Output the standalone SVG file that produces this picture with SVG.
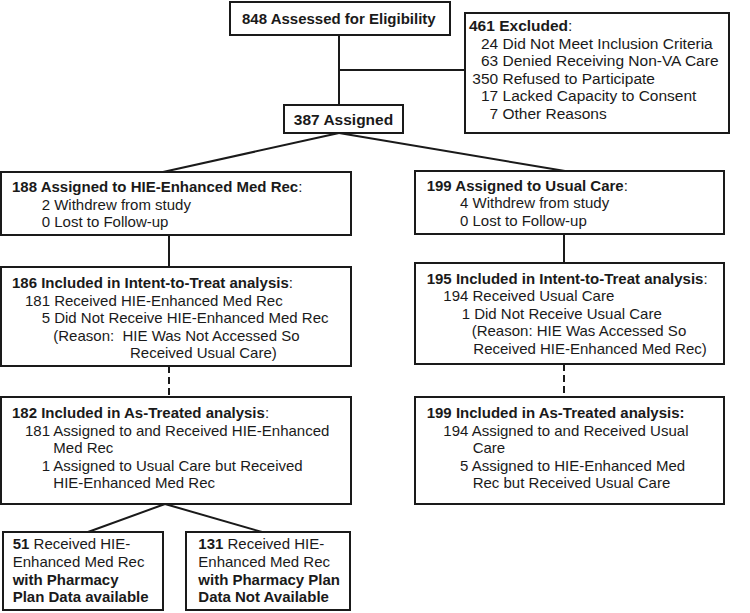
<svg xmlns="http://www.w3.org/2000/svg" width="750" height="613" viewBox="0 0 750 613">
<style>
.box{fill:#fff;stroke:#1a1a1a;stroke-width:2}
.ln{fill:none;stroke:#1a1a1a;stroke-width:2}
.dash{stroke-dasharray:7,4}
text{font-family:"Liberation Sans",Arial,sans-serif;font-size:15px;fill:#1a1a1a}
.b{font-weight:bold}
.big{font-size:15.5px}
</style>
<rect width="750" height="613" fill="#fff"/>
<g id="connectors">
<line class="ln" x1="339" y1="35" x2="339" y2="105"/>
<line class="ln" x1="339" y1="70" x2="465" y2="70"/>
<line class="ln" x1="339" y1="133" x2="163" y2="172"/>
<line class="ln" x1="339" y1="133" x2="565" y2="171"/>
<line class="ln" x1="169" y1="235" x2="169" y2="267"/>
<line class="ln" x1="564" y1="234" x2="564" y2="263"/>
<line class="ln dash" x1="169" y1="366" x2="169" y2="397"/>
<line class="ln dash" x1="564" y1="364" x2="564" y2="397"/>
<line class="ln" x1="165" y1="504" x2="88" y2="532"/>
<line class="ln" x1="165" y1="504" x2="262" y2="532"/>
</g>
<g id="assessed">
<rect class="box" x="230" y="2" width="220" height="33"/>
<text class="b" x="242" y="24">848 Assessed for Eligibility</text>
</g>
<g id="excluded">
<rect class="box" x="465" y="13" width="264" height="120"/>
<text class="big" x="469" y="31"><tspan class="b">461 Excluded</tspan>:</text>
<text class="big" x="481" y="48.5">24 Did Not Meet Inclusion Criteria</text>
<text class="big" x="481" y="66">63 Denied Receiving Non-VA Care</text>
<text class="big" x="472.3" y="83.5">350 Refused to Participate</text>
<text class="big" x="481" y="101">17 Lacked Capacity to Consent</text>
<text class="big" x="489.5" y="118.5">7 Other Reasons</text>
</g>
<g id="assigned">
<rect class="box" x="284" y="105" width="119" height="28"/>
<text class="b big" x="343.5" y="125" text-anchor="middle">387 Assigned</text>
</g>
<g id="hie-assigned">
<rect class="box" x="1" y="172" width="350" height="63"/>
<text x="12" y="192"><tspan class="b">188 Assigned to HIE-Enhanced Med Rec</tspan>:</text>
<text x="41.7" y="209.5">2 Withdrew from study</text>
<text x="41.7" y="227">0 Lost to Follow-up</text>
</g>
<g id="uc-assigned">
<rect class="box" x="415" y="171" width="309" height="63"/>
<text x="426.7" y="190.5"><tspan class="b">199 Assigned to Usual Care</tspan>:</text>
<text x="460" y="208">4 Withdrew from study</text>
<text x="460" y="225.5">0 Lost to Follow-up</text>
</g>
<g id="hie-itt">
<rect class="box" x="1" y="267" width="350" height="99"/>
<text x="12" y="288"><tspan class="b">186 Included in Intent-to-Treat analysis</tspan>:</text>
<text x="25" y="305.5">181 Received HIE-Enhanced Med Rec</text>
<text x="41.7" y="323">5 Did Not Receive HIE-Enhanced Med Rec</text>
<text x="53.3" y="340.5" xml:space="preserve">(Reason:  HIE Was Not Accessed So</text>
<text x="130" y="358">Received Usual Care)</text>
</g>
<g id="uc-itt">
<rect class="box" x="415" y="263" width="309" height="101"/>
<text x="426.7" y="283.7"><tspan class="b">195 Included in Intent-to-Treat analysis</tspan>:</text>
<text x="443.3" y="301.2">194 Received Usual Care</text>
<text x="461.7" y="318.7">1 Did Not Receive Usual Care</text>
<text x="471.7" y="336.2">(Reason: HIE Was Accessed So</text>
<text x="473.3" y="353.7">Received HIE-Enhanced Med Rec)</text>
</g>
<g id="hie-at">
<rect class="box" x="1" y="397" width="350" height="107"/>
<text x="12" y="418"><tspan class="b">182 Included in As-Treated analysis</tspan>:</text>
<text x="25" y="435.5">181 Assigned to and Received HIE-Enhanced</text>
<text x="53.3" y="453">Med Rec</text>
<text x="41.7" y="470.5">1 Assigned to Usual Care but Received</text>
<text x="53.3" y="488">HIE-Enhanced Med Rec</text>
</g>
<g id="uc-at">
<rect class="box" x="415" y="397" width="309" height="107"/>
<text class="b" x="426.7" y="418">199 Included in As-Treated analysis:</text>
<text x="443.3" y="435.5">194 Assigned to and Received Usual</text>
<text x="472.7" y="453">Care</text>
<text x="460" y="470.5">5 Assigned to HIE-Enhanced Med</text>
<text x="472.7" y="488">Rec but Received Usual Care</text>
</g>
<g id="pharm-avail">
<rect class="box" x="3" y="532" width="160" height="78"/>
<text x="12.7" y="549"><tspan class="b">51</tspan> Received HIE-</text>
<text x="12.7" y="566.5">Enhanced Med Rec</text>
<text class="b" x="12.7" y="584.5">with Pharmacy</text>
<text class="b" x="12.7" y="602">Plan Data available</text>
</g>
<g id="pharm-na">
<rect class="box" x="186" y="532" width="164" height="78"/>
<text x="198.3" y="549"><tspan class="b">131</tspan> Received HIE-</text>
<text x="198.3" y="566.5">Enhanced Med Rec</text>
<text class="b" x="198.3" y="584.5">with Pharmacy Plan</text>
<text class="b" x="198.3" y="602">Data Not Available</text>
</g>
</svg>
